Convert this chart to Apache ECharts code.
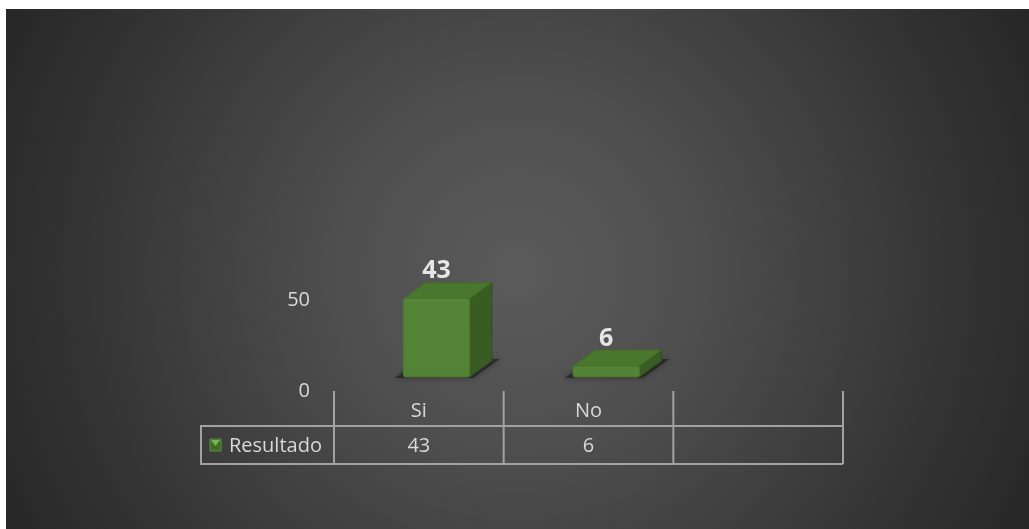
<!DOCTYPE html>
<html>
<head>
<meta charset="utf-8">
<script src="https://cdn.jsdelivr.net/npm/echarts@6/dist/echarts.min.js"></script>
<style>
  html, body { margin: 0; padding: 0; background: #ffffff; }
  #chart { position: absolute; left: 6px; top: 9px; width: 1023px; height: 520px; }
</style>
</head>
<body>
<div id="chart"></div>
<script>
// Survey result: answers per category
const categories = ['Si', 'No', ''];
const resultado = [43, 6];
const seriesName = 'Resultado';
const yAxisMax = 50;
const yAxisStep = 50;

const FONT = 'Open Sans';
const TEXT = '#d9d9d9';
const GRID_LINE = '#a2a2a2';

const chart = echarts.init(document.getElementById('chart'), null, { renderer: 'canvas' });

// 3D-looking column: front face, right side and top, with a soft floor shadow
function renderBar(params, api) {
  const i = api.value(0);
  const v = api.value(1);
  const base = api.coord([i, 0]);
  const top = api.coord([i, v]);
  const band = api.size([1, 0])[0];
  const fl = base[0] - band * 0.091;
  const fr = base[0] + band * 0.300;
  const dx = band * 0.13;
  const dy = -16;
  const yb = base[1];
  const yt = top[1];
  return {
    type: 'group',
    children: [
      {
        type: 'polygon',
        shape: { points: [[fl - 9, yb + 1], [fr + 3, yb + 1], [fr + dx + 8, yb + dy - 2], [fl + dx, yb + dy - 2]] },
        style: { fill: 'rgba(20,20,20,0.55)', shadowBlur: 6, shadowColor: 'rgba(0,0,0,0.6)' }
      },
      {
        type: 'polygon',
        shape: { points: [[fr, yt], [fr + dx, yt + dy], [fr + dx, yb + dy], [fr, yb]] },
        style: { fill: '#385c22', stroke: '#2f4f1c', lineWidth: 1 }
      },
      {
        type: 'polygon',
        shape: { points: [[fl, yt], [fl + dx, yt + dy], [fr + dx, yt + dy], [fr, yt]] },
        style: { fill: '#4a772e', stroke: '#42692a', lineWidth: 1 }
      },
      {
        type: 'rect',
        shape: { x: fl, y: yt, width: fr - fl, height: yb - yt, r: 2 },
        style: {
          fill: new echarts.graphic.LinearGradient(0, 0, 0, 1, [
            { offset: 0, color: '#5b8a3c' },
            { offset: 0.06, color: '#558337' },
            { offset: 1, color: '#538136' }
          ]),
          stroke: '#4a772f',
          lineWidth: 1
        }
      },
      {
        type: 'text',
        style: {
          x: (fl + fr) / 2,
          y: yt + dy + 1,
          text: String(v),
          fill: '#e6e6e6',
          font: 'bold 25px "' + FONT + '"',
          align: 'center',
          verticalAlign: 'bottom'
        }
      }
    ]
  };
}

// Data table under the category axis: column rules and the value row
function renderTable(params, api) {
  const i = api.value(0);
  const c = api.coord([i, 0]);
  const band = api.size([1, 0])[0];
  const x0 = c[0] - band / 2;
  const x1 = c[0] + band / 2;
  const yHead = c[1] + 14;
  const yTop = c[1] + 49;
  const yBot = c[1] + 87;
  const yMid = (yTop + yBot) / 2;
  const v = resultado[params.dataIndex];
  const lineStyle = { stroke: GRID_LINE, lineWidth: 2 };
  const children = [
    { type: 'line', shape: { x1: x0, y1: yHead, x2: x0, y2: yBot }, style: lineStyle },
    { type: 'line', shape: { x1: x0, y1: yTop, x2: x1, y2: yTop }, style: lineStyle },
    { type: 'line', shape: { x1: x0, y1: yBot, x2: x1, y2: yBot }, style: lineStyle },
    {
      type: 'text',
      style: {
        x: c[0], y: yMid + 1,
        text: v == null ? '' : String(v),
        fill: TEXT, font: '20px "' + FONT + '"',
        align: 'center', verticalAlign: 'middle'
      }
    }
  ];
  if (params.dataIndex === categories.length - 1) {
    children.push({ type: 'line', shape: { x1: x1, y1: yHead, x2: x1, y2: yBot }, style: lineStyle });
  }
  if (params.dataIndex === 0) {
    const hx = x0 - 133;
    children.push(
      { type: 'line', shape: { x1: hx, y1: yTop, x2: x0, y2: yTop }, style: lineStyle },
      { type: 'line', shape: { x1: hx, y1: yBot, x2: x0, y2: yBot }, style: lineStyle },
      { type: 'line', shape: { x1: hx, y1: yTop - 1, x2: hx, y2: yBot + 1 }, style: lineStyle },
      {
        type: 'rect',
        shape: { x: x0 - 124, y: yMid - 6, width: 11, height: 12 },
        style: { fill: '#3f6d27', stroke: '#5e8f3f', lineWidth: 1 }
      },
      {
        type: 'polygon',
        shape: { points: [[x0 - 123, yMid - 5], [x0 - 114, yMid - 5], [x0 - 118.5, yMid + 1]] },
        style: { fill: '#79b554' }
      },
      {
        type: 'text',
        style: {
          x: x0 - 105, y: yMid + 1,
          text: seriesName,
          fill: TEXT, font: '20px "' + FONT + '"',
          align: 'left', verticalAlign: 'middle'
        }
      }
    );
  }
  return { type: 'group', children: children };
}

chart.setOption({
  backgroundColor: {
    type: 'radial', x: 511, y: 262, r: 580, global: true,
    colorStops: [
      { offset: 0, color: '#5b5b5b' },
      { offset: 0.3, color: '#4f4f4f' },
      { offset: 0.75, color: '#343434' },
      { offset: 1, color: '#262626' }
    ]
  },
  animation: false,
  textStyle: { fontFamily: FONT },
  grid: { left: 328, right: 186, top: 277, bottom: 152, containLabel: false },
  xAxis: {
    type: 'category',
    data: categories,
    boundaryGap: true,
    axisLine: { show: false },
    axisTick: { show: false },
    axisLabel: { color: TEXT, fontSize: 20, fontFamily: FONT, margin: 24, interval: 0 },
    splitLine: { show: false }
  },
  yAxis: {
    type: 'value',
    min: 0,
    max: yAxisMax,
    interval: yAxisStep,
    axisLine: { show: false },
    axisTick: { show: false },
    splitLine: { show: false },
    axisLabel: { color: TEXT, fontSize: 20, fontFamily: FONT, margin: 24, verticalAlign: 'top', padding: [4, 0, 0, 0] }
  },
  series: [
    {
      type: 'custom',
      name: seriesName + ' table',
      renderItem: renderTable,
      data: categories.map((c, i) => [i, 0]),
      clip: false,
      silent: true,
      z: 1
    },
    {
      type: 'custom',
      name: seriesName,
      renderItem: renderBar,
      data: resultado.map((v, i) => [i, v]),
      clip: false,
      z: 2
    }
  ]
});
</script>
</body>
</html>
